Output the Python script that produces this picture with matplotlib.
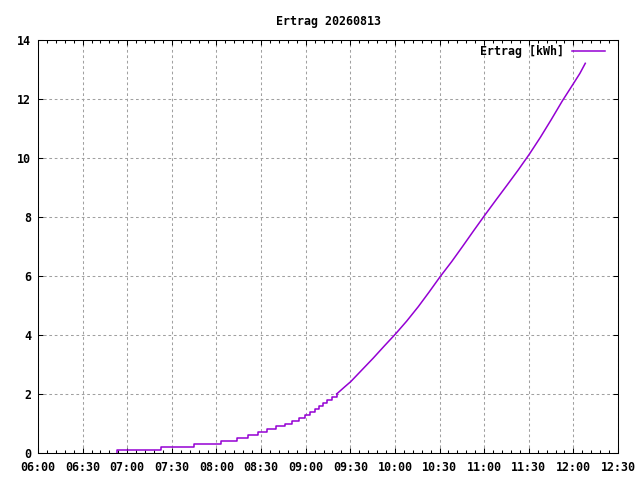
import matplotlib
matplotlib.use("Agg")
import matplotlib.pyplot as plt
from matplotlib.ticker import MultipleLocator, FixedLocator, FixedFormatter

# times in minutes since midnight, energy in kWh
step_times = [412.8, 412.8, 442.7, 465.1, 482.8, 493.8, 501.0, 508.1, 513.8, 519.8,
              526.0, 530.8, 535.7, 539.7, 542.9, 546.0, 549.1, 551.4, 554.5, 557.5, 560.8]
step_vals = [0.0, 0.1, 0.2, 0.3, 0.4, 0.5, 0.6, 0.7, 0.8, 0.9,
             1.0, 1.1, 1.2, 1.3, 1.4, 1.5, 1.6, 1.7, 1.8, 1.9, 2.0]

line_times = [560.8, 566.4, 570.3, 577.7, 585.3, 592.9, 600.3, 607.9, 615.7, 622.9,
              630.3, 638.2, 645.6, 653.0, 660.4, 668.0, 675.4, 683.0, 690.4, 697.8,
              705.1, 712.5, 720.0, 724.4, 728.0]
line_vals = [2.0, 2.25, 2.42, 2.81, 3.21, 3.63, 4.03, 4.47, 4.96, 5.45,
             5.97, 6.49, 7.01, 7.54, 8.06, 8.58, 9.08, 9.6, 10.13, 10.7,
             11.3, 11.93, 12.52, 12.87, 13.21]

tick_pos = [360, 390, 420, 450, 480, 510, 540, 570, 600, 630, 660, 690, 720, 750]
tick_labels = ["06:00", "06:30", "07:00", "07:30", "08:00", "08:30", "09:00",
               "09:30", "10:00", "10:30", "11:00", "11:30", "12:00", "12:30"]

title = "Ertrag 20260813"
series_label = "Ertrag [kWh]"
color = "#9400d3"

font = dict(family="DejaVu Sans Mono", weight="bold", size=8.4)

fig = plt.figure(figsize=(6.4, 4.8), dpi=100)
ax = fig.add_axes([38/640, 27/480, 580/640, 413/480])

ax.step(step_times, step_vals, where="post", color=color, lw=1.1)
ax.plot(line_times, line_vals, color=color, lw=1.1, label=series_label)

ax.set_xlim(360, 750)
ax.set_ylim(0, 14)
ax.xaxis.set_major_locator(FixedLocator(tick_pos))
ax.xaxis.set_major_formatter(FixedFormatter(tick_labels))
ax.xaxis.set_minor_locator(MultipleLocator(6))
ax.yaxis.set_major_locator(MultipleLocator(2))

ax.grid(True, which="major", color="#a0a0a0", lw=0.75, linestyle=(0, (2.6, 2.6)))
ax.tick_params(which="both", direction="in", top=True, right=True, width=0.75, colors="black")
ax.tick_params(which="major", length=3.6)
ax.tick_params(which="minor", length=2.0)
ax.tick_params(axis="x", pad=6)
ax.tick_params(axis="y", pad=5)
for sp in ax.spines.values():
    sp.set_linewidth(0.75)

for lab in ax.get_xticklabels() + ax.get_yticklabels():
    lab.set_fontfamily(font["family"])
    lab.set_fontweight(font["weight"])
    lab.set_fontsize(font["size"])

fig.text(328/640, 1 - 21/480, title, ha="center", va="center", **font)

ax.legend(loc="upper right", bbox_to_anchor=(0.978, 0.988), frameon=False,
          markerfirst=False, handlelength=2.85, handletextpad=0.7,
          borderaxespad=0, borderpad=0,
          prop=dict(family=font["family"], weight=font["weight"], size=font["size"]))

fig.savefig("out.png", dpi=100)
